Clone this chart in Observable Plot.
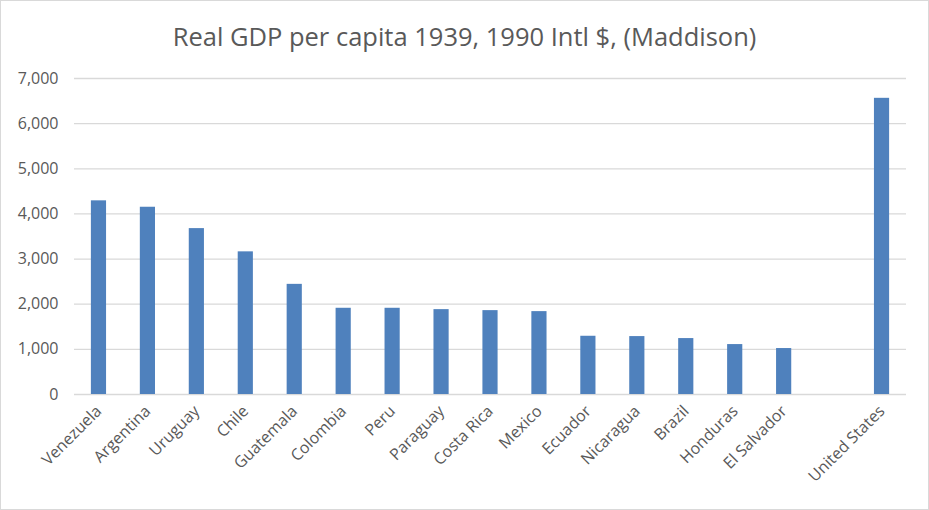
<!DOCTYPE html>
<html>
<head>
<meta charset="utf-8">
<script src="https://cdn.jsdelivr.net/npm/d3@7"></script>
<script src="https://cdn.jsdelivr.net/npm/@observablehq/plot@0.6"></script>
<style>
  html, body { margin: 0; padding: 0; background: #fff; }
  #frame { width: 929px; height: 510px; box-sizing: border-box; border: 1px solid #d9d9d9; position: relative; overflow: hidden; font-family: "Open Sans", sans-serif; }
  #title { height: 60px; line-height: 70px; text-align: center; font-size: 25.5px; color: #595959; white-space: nowrap; }
  svg { display: block; }
</style>
</head>
<body>
<div id="frame">
  <div id="title">Real GDP per capita 1939, 1990 Intl $, (Maddison)</div>
  <div id="chart"></div>
</div>
<script>
const countries = ["Venezuela", "Argentina", "Uruguay", "Chile", "Guatemala", "Colombia", "Peru", "Paraguay", "Costa Rica", "Mexico", "Ecuador", "Nicaragua", "Brazil", "Honduras", "El Salvador", "", "United States"];
const gdp = [4290, 4148, 3675, 3160, 2440, 1910, 1910, 1880, 1858, 1836, 1290, 1283, 1239, 1106, 1018, null, 6561];
const yTicks = [0, 1000, 2000, 3000, 4000, 5000, 6000, 7000];

const data = countries.map((c, i) => ({country: c, value: gdp[i]})).filter(d => d.value != null);

const chart = Plot.plot({
  width: 927,
  height: 448,
  marginTop: 17,
  marginBottom: 115,
  marginLeft: 73,
  marginRight: 22,
  style: {fontFamily: "'Open Sans', sans-serif", fontSize: "16px", color: "#595959", background: "#fff"},
  x: {domain: countries, paddingInner: 0.69, paddingOuter: 0.345, align: 0.5, round: false, label: null},
  y: {domain: [0, 7000], ticks: yTicks, label: null},
  marks: [
    Plot.gridY(yTicks, {stroke: "#d9d9d9", strokeOpacity: 1, strokeWidth: 1.3}),
    Plot.barY(data, {x: "country", y: "value", fill: "#4f81bd"}),
    Plot.axisY({ticks: yTicks, tickSize: 0, tickPadding: 16, tickFormat: d3.format(","), fontSize: 16, fill: "#595959"}),
    Plot.axisX({tickSize: 0, tickPadding: 14, tickRotate: -45, fontSize: 16, fill: "#595959"})
  ]
});
document.getElementById("chart").appendChild(chart);
</script>
</body>
</html>
